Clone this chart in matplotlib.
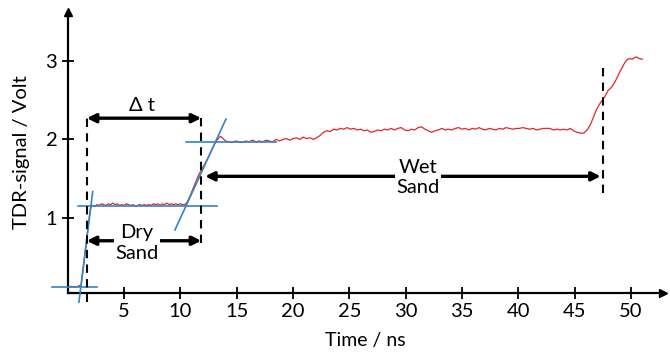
import matplotlib
matplotlib.use("Agg")
import matplotlib.pyplot as plt

time_ns = [0.0, 0.3, 0.6, 0.9, 1.2, 1.4, 1.6, 1.8, 1.95, 2.05, 2.2,
           2.4, 2.6, 2.8, 3.0, 3.2, 3.4, 3.6, 3.8, 4.0, 4.2, 4.4, 4.6, 4.8,
           5.0, 5.2, 5.4, 5.6, 5.8, 6.0, 6.2, 6.4, 6.6, 6.8, 7.0, 7.2, 7.4,
           7.6, 7.8, 8.0, 8.2, 8.4, 8.6, 8.8, 9.0, 9.2, 9.4, 9.6, 9.8, 10.0,
           10.2, 10.4, 10.6, 10.8, 11.0, 11.2, 11.4, 11.6, 11.85, 12.1, 12.4,
           12.7, 13.0, 13.3, 13.55, 13.8, 14.0, 14.3, 14.6, 14.9, 15.2, 15.5,
           15.8, 16.1, 16.4, 16.7, 17.0, 17.3, 17.6, 17.9, 18.2, 18.5, 18.8,
           19.1, 19.4, 19.7, 20.0, 20.3, 20.6, 20.9, 21.2, 21.5, 21.8, 22.1,
           22.4, 22.7, 23.0, 23.3, 23.6, 23.9, 24.2, 24.5, 24.8, 25.1, 25.4,
           25.7, 26.0, 26.3, 26.6, 26.9, 27.2, 27.5, 27.8, 28.1, 28.4, 28.7,
           29.0, 29.3, 29.6, 29.9, 30.2, 30.5, 30.8, 31.1, 31.4, 31.7, 32.0,
           32.3, 32.6, 32.9, 33.2, 33.5, 33.8, 34.1, 34.4, 34.7, 35.0, 35.3,
           35.6, 35.9, 36.2, 36.5, 36.8, 37.1, 37.4, 37.7, 38.0, 38.3, 38.6,
           38.9, 39.2, 39.5, 39.8, 40.1, 40.4, 40.7, 41.0, 41.3, 41.6, 41.9,
           42.2, 42.5, 42.8, 43.1, 43.4, 43.7, 44.0, 44.3, 44.6, 44.9, 45.2,
           45.5, 45.8, 46.1, 46.4, 46.7, 46.9, 47.2, 47.5, 47.7, 47.95, 48.3,
           48.6, 48.8, 49.0, 49.3, 49.5, 49.7, 49.9, 50.1, 50.3, 50.5, 50.7,
           51.0]
signal_v = [0.12, 0.13, 0.12, 0.13, 0.15, 0.38, 0.62, 0.86, 1.05, 1.13, 1.16,
            1.15, 1.17, 1.16, 1.18, 1.17, 1.16, 1.18, 1.17, 1.19, 1.17, 1.18,
            1.16, 1.17, 1.16, 1.18, 1.17, 1.16, 1.17, 1.15, 1.16, 1.17, 1.16,
            1.17, 1.16, 1.17, 1.16, 1.18, 1.17, 1.18, 1.16, 1.18, 1.17, 1.19,
            1.17, 1.18, 1.17, 1.18, 1.17, 1.18, 1.17, 1.17, 1.20, 1.26, 1.33,
            1.40, 1.47, 1.54, 1.61, 1.67, 1.75, 1.84, 1.93, 2.00, 2.04, 2.01,
            1.98, 1.97, 1.96, 1.98, 1.97, 1.96, 1.98, 1.97, 1.99, 1.97, 1.98,
            1.97, 1.99, 1.98, 1.97, 2.00, 1.98, 2.00, 2.01, 1.99, 2.01, 2.02,
            2.00, 2.03, 2.01, 2.02, 2.00, 2.02, 2.05, 2.09, 2.11, 2.10, 2.13,
            2.12, 2.14, 2.13, 2.15, 2.13, 2.14, 2.12, 2.13, 2.11, 2.12, 2.09,
            2.10, 2.12, 2.11, 2.13, 2.12, 2.14, 2.12, 2.14, 2.15, 2.12, 2.11,
            2.13, 2.12, 2.15, 2.16, 2.13, 2.11, 2.09, 2.11, 2.12, 2.14, 2.12,
            2.13, 2.12, 2.14, 2.15, 2.13, 2.14, 2.12, 2.14, 2.13, 2.15, 2.13,
            2.12, 2.14, 2.13, 2.12, 2.14, 2.13, 2.15, 2.14, 2.13, 2.14, 2.14,
            2.15, 2.14, 2.13, 2.14, 2.12, 2.13, 2.14, 2.14, 2.14, 2.12, 2.13,
            2.12, 2.13, 2.12, 2.14, 2.11, 2.09, 2.08, 2.08, 2.12, 2.19, 2.30,
            2.37, 2.45, 2.51, 2.55, 2.62, 2.67, 2.74, 2.80, 2.86, 2.94, 2.99,
            3.02, 3.03, 3.02, 3.04, 3.05, 3.03, 3.02]

# tangent / level lines (start, end) in data units
tangent_t = [(-1.4, 2.6), (1.0, 2.22), (0.92, 13.25), (9.52, 14.05), (10.5, 18.5)]
tangent_v = [(0.125, 0.125), (-0.07, 1.335), (1.153, 1.153), (0.847, 2.26), (1.965, 1.965)]

# vertical dashed markers: time, lower and upper volt
marker_t = [1.7, 11.85, 47.5]
marker_lo = [-0.07, 0.68, 1.32]
marker_hi = [2.34, 2.34, 2.99]

x_ticks = [5, 10, 15, 20, 25, 30, 35, 40, 45, 50]
y_ticks = [1, 2, 3]

FONT = ['Lato', 'DejaVu Sans']
RED = '#e3262b'
BLUE = '#2f86c6'


def dim_arrow(ax, t0, t1, v):
    ax.annotate('', xy=(t1, v), xytext=(t0, v),
                arrowprops=dict(arrowstyle='<|-|>', lw=2.4, color='black',
                                mutation_scale=13, shrinkA=0, shrinkB=0))


def main():
    plt.rcParams['font.family'] = FONT
    fig = plt.figure(figsize=(6.7, 3.52), dpi=100)
    ax = fig.add_axes([0.101, 0.1676, 0.888, 0.798])

    ax.plot(time_ns, signal_v, color=RED, lw=0.9, zorder=2)
    for t, v in zip(tangent_t, tangent_v):
        ax.plot(t, v, color=BLUE, lw=1.2, clip_on=False, zorder=3)
    for t, lo, hi in zip(marker_t, marker_lo, marker_hi):
        ax.plot([t, t], [lo, hi], color='black', lw=1.5, dashes=(4, 3),
                clip_on=False, zorder=4)

    dim_arrow(ax, 1.7, 11.85, 2.27)
    dim_arrow(ax, 1.7, 11.85, 0.71)
    dim_arrow(ax, 12.2, 47.3, 1.53)

    ax.text(6.6, 2.43, '\u0394 t', fontsize=14.5, ha='center', va='center')
    ax.text(6.15, 0.68, 'Dry\nSand', fontsize=14.5, ha='center', va='center',
            linespacing=1.3, zorder=5,
            bbox=dict(facecolor='white', edgecolor='none', pad=1))
    ax.text(31.1, 1.52, 'Wet\nSand', fontsize=14.5, ha='center', va='center',
            linespacing=1.2, zorder=5,
            bbox=dict(facecolor='white', edgecolor='none', pad=1))

    ax.set_xlim(0, 52.8)
    ax.set_ylim(0.045, 3.62)
    ax.set_xticks(x_ticks)
    ax.set_yticks(y_ticks)
    ax.tick_params(direction='inout', length=9, width=1.3, labelsize=14.5, pad=3)
    ax.set_xlabel('Time / ns', fontsize=14, labelpad=8)
    ax.set_ylabel('TDR-signal / Volt', fontsize=14.5)
    ax.yaxis.set_label_coords(-0.063, 0.5)

    for side in ['top', 'right']:
        ax.spines[side].set_visible(False)
    for side in ['left', 'bottom']:
        ax.spines[side].set_linewidth(1.6)
    ax.plot(1, 0, '>k', ms=6, transform=ax.transAxes, clip_on=False)
    ax.plot(0, 1, '^k', ms=6, transform=ax.transAxes, clip_on=False)

    fig.savefig('out.png', dpi=100)


if __name__ == '__main__':
    main()
